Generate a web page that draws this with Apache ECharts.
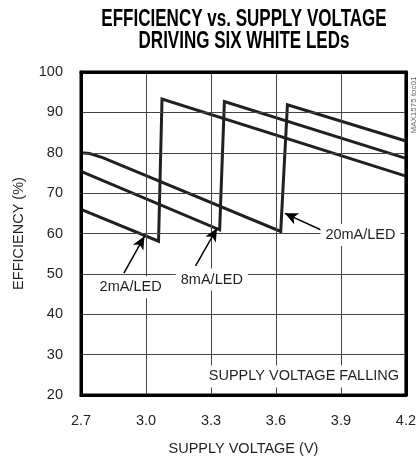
<!DOCTYPE html>
<html>
<head>
<meta charset="utf-8">
<script src="https://cdn.jsdelivr.net/npm/echarts@6/dist/echarts.min.js"></script>
<style>
  html, body { margin: 0; padding: 0; background: #fff; }
  #chart { width: 419px; height: 461px; }
</style>
</head>
<body>
<div id="chart"></div>
<script>
// supply voltage (V) / efficiency (%)
const volt2 = [2.70, 3.058, 3.074, 4.20]
const eff2 = [66.0, 58.1, 93.3, 74.2]
const volt8 = [2.70, 3.340, 3.362, 4.20]
const eff8 = [75.4, 60.9, 92.7, 78.6]
const volt20 = [2.70, 2.74, 2.80, 3.622, 3.653, 4.20]
const eff20 = [80.0, 79.8, 78.8, 60.5, 91.9, 82.9]

const xTicks = [2.7, 3.0, 3.3, 3.6, 3.9, 4.2]
const yTicks = [20, 30, 40, 50, 60, 70, 80, 90, 100]

// annotation text + arrow (from -> tip), in data units
const labels = [
  { name: '2mA/LED', at: [2.929, 46.7], from: [2.898, 50.2], tip: [2.993, 59.3] },
  { name: '8mA/LED', at: [3.304, 48.6], from: [3.229, 52.0], tip: [3.328, 61.3] },
  { name: '20mA/LED', at: [3.99, 59.6], from: [3.824, 60.5], tip: [3.641, 65.0] },
]
const note = { name: 'SUPPLY VOLTAGE FALLING', at: [3.729, 24.6] }

// no condensed face installed, so a plain sans at a smaller size keeps the widths
const FONT = "'Liberation Sans', Arial, sans-serif"
const INK = '#231f20'

const zip = (xs, ys) => xs.map((x, i) => [x, ys[i]])

const chart = echarts.init(document.getElementById('chart'), null, { renderer: 'canvas' })

const borderAxis = {
  show: true,
  axisLine: { show: true, lineStyle: { color: '#000', width: 3 } },
  axisTick: { show: false },
  axisLabel: { show: false },
  splitLine: { show: false },
  z: 5,
}

const option = {
  animation: false,
  backgroundColor: '#fff',
  grid: {
    left: 81, right: 10, top: 72, bottom: 62,
    show: true, borderColor: '#000', borderWidth: 3,
  },
  xAxis: [
    {
      type: 'value',
      min: xTicks[0],
      max: xTicks[xTicks.length - 1],
      interval: 0.3,
      name: 'SUPPLY VOLTAGE (V)',
      nameLocation: 'middle',
      nameGap: 46,
      nameTextStyle: { fontFamily: FONT, fontSize: 14.5, color: INK },
      axisLine: { show: true, lineStyle: { color: '#000', width: 3 } },
      axisTick: { show: false },
      axisLabel: {
        fontFamily: FONT, fontSize: 14.5, color: INK, margin: 18,
        formatter: (v) => v.toFixed(1),
      },
      splitLine: { show: true, lineStyle: { color: '#444', width: 1 } },
      z: 5,
    },
    Object.assign({ type: 'value', position: 'top', min: xTicks[0], max: xTicks[xTicks.length - 1] }, borderAxis),
  ],
  yAxis: [
    {
      type: 'value',
      min: yTicks[0],
      max: yTicks[yTicks.length - 1],
      interval: 10,
      name: 'EFFICIENCY (%)',
      nameLocation: 'middle',
      nameRotate: 90,
      nameGap: 55,
      nameTextStyle: { fontFamily: FONT, fontSize: 14.5, color: INK },
      axisLine: { show: true, lineStyle: { color: '#000', width: 3 } },
      axisTick: { show: false },
      axisLabel: { fontFamily: FONT, fontSize: 14.5, color: INK, margin: 18 },
      splitLine: { show: true, lineStyle: { color: '#444', width: 1 } },
      z: 5,
    },
    Object.assign({ type: 'value', position: 'right', min: yTicks[0], max: yTicks[yTicks.length - 1] }, borderAxis),
  ],
  graphic: [
    {
      // title: big bold face squeezed horizontally to look condensed
      type: 'text',
      x: 244, y: 31,
      scaleX: 0.74,
      style: {
        text: 'EFFICIENCY vs. SUPPLY VOLTAGE\nDRIVING SIX WHITE LEDs',
        fontFamily: FONT,
        fontWeight: 'bold',
        fontSize: 23,
        lineHeight: 22,
        fill: '#000',
        align: 'center',
        verticalAlign: 'middle',
      },
    },
    {
      type: 'text',
      x: 414, y: 105,
      rotation: Math.PI / 2,
      style: {
        text: 'MAX1575 toc01',
        fontFamily: FONT,
        fontSize: 8,
        fill: '#666',
        align: 'center',
        verticalAlign: 'middle',
      },
    },
  ],
  series: [
    ['2mA', volt2, eff2],
    ['8mA', volt8, eff8],
    ['20mA', volt20, eff20],
  ].map(([name, xs, ys], i) => ({
    name,
    type: 'line',
    data: zip(xs, ys),
    showSymbol: false,
    smooth: false,
    silent: true,
    z: 3,
    lineStyle: { color: INK, width: 3, join: 'miter' },
    markLine: {
      silent: true,
      symbol: ['none', 'arrow'],
      symbolSize: [9, 13],
      label: { show: false },
      lineStyle: { color: '#000', width: 1.5, type: 'solid' },
      data: [[
        { coord: labels[i].from },
        { coord: labels[i].tip },
      ]],
    },
    markPoint: {
      silent: true,
      symbol: 'circle',
      symbolSize: 1,
      itemStyle: { color: 'rgba(0,0,0,0)' },
      label: {
        show: true,
        position: 'inside',
        formatter: (p) => p.name,
        fontFamily: FONT,
        fontSize: 14.5,
        color: INK,
        backgroundColor: '#fff',
        padding: [4, 5, 3, 5],
      },
      data: i === 0
        ? [{ name: labels[i].name, coord: labels[i].at }, { name: note.name, coord: note.at }]
        : [{ name: labels[i].name, coord: labels[i].at }],
    },
  })),
}

chart.setOption(option)
</script>
</body>
</html>
